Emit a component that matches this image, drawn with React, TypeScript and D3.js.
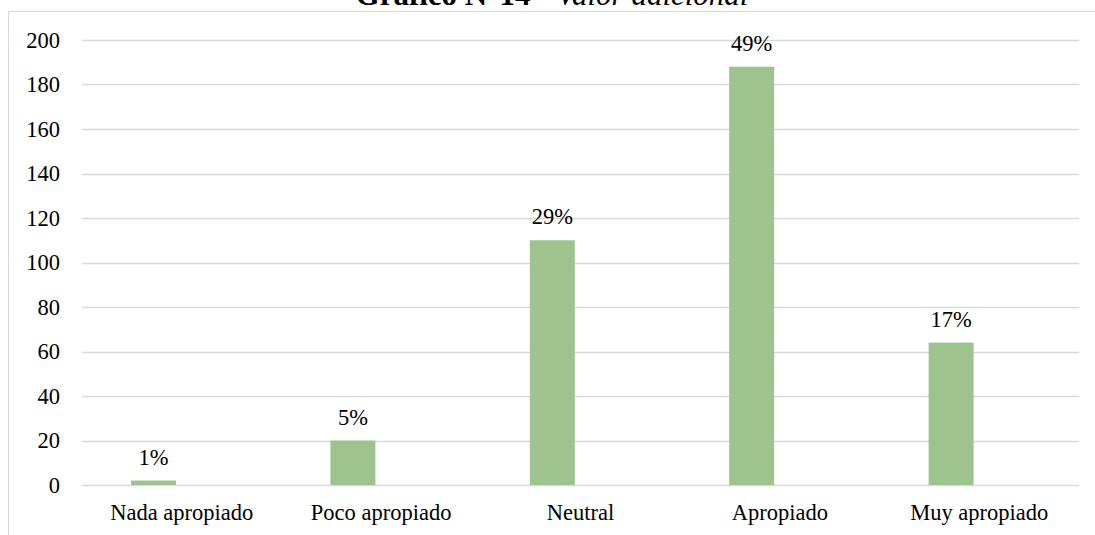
import React from "react";
import * as d3 from "d3";

const categories = ["Nada apropiado", "Poco apropiado", "Neutral", "Apropiado", "Muy apropiado"];
const counts = [2, 20, 110, 188, 64];
const percentLabels = ["1%", "5%", "29%", "49%", "17%"];
const yTicks = [0, 20, 40, 60, 80, 100, 120, 140, 160, 180, 200];
// the source sheet had a second, empty series beside each bar
const seriesKeys = ["Frecuencia", "vacía"];

const W = 1095;
const H = 535;
const margin = { top: 40, right: 16, bottom: 50, left: 82 };
const font = "'Liberation Serif', 'Times New Roman', serif";
const fs = 22.5;

const App: React.FC = () => {
  const x = d3
    .scaleBand<string>()
    .domain(categories)
    .range([margin.left, W - margin.right])
    .padding(0);

  const inner = d3
    .scaleBand<string>()
    .domain(seriesKeys)
    .range([0, x.bandwidth()])
    .paddingInner(0)
    .paddingOuter(1.216)
    .align(0.448);

  const y = d3
    .scaleLinear()
    .domain([0, 200])
    .range([H - margin.bottom, margin.top]);

  return (
    <div style={{ position: "absolute", left: 0, top: 0 }}>
      <svg width={W} height={H} style={{ display: "block", background: "#fff" }}>
        <rect x={8.5} y={11.5} width={W + 10} height={H + 10} fill="none" stroke="#d9d9d9" strokeWidth={1} />

        <text x={552} y={5} textAnchor="middle" fontFamily={font} fontSize={31} fill="#000">
          <tspan fontWeight="bold">Gráfico N°14 - </tspan>
          <tspan fontStyle="italic">Valor adicional</tspan>
        </text>

        {yTicks.map((t) => (
          <g key={t}>
            <line
              x1={margin.left}
              x2={W - margin.right}
              y1={Math.round(y(t)) + 0.5}
              y2={Math.round(y(t)) + 0.5}
              stroke="#d9d9d9"
              strokeWidth={1.3}
            />
            <text
              x={60}
              y={y(t)}
              dy="0.35em"
              textAnchor="end"
              fontFamily={font}
              fontSize={fs}
              fill="#000"
            >
              {t}
            </text>
          </g>
        ))}

        {categories.map((c, i) => {
          const bx = (x(c) ?? 0) + (inner(seriesKeys[0]) ?? 0);
          const bw = inner.bandwidth();
          return (
            <g key={c}>
              <rect x={bx} y={y(counts[i])} width={bw} height={y(0) - y(counts[i])} fill="#9fc38f" />
              <text
                x={bx + bw / 2}
                y={y(counts[i]) - 16}
                textAnchor="middle"
                fontFamily={font}
                fontSize={fs}
                fill="#000"
              >
                {percentLabels[i]}
              </text>
              <text
                x={(x(c) ?? 0) + x.bandwidth() / 2}
                y={y(0) + 35}
                textAnchor="middle"
                fontFamily={font}
                fontSize={fs}
                fill="#000"
              >
                {c}
              </text>
            </g>
          );
        })}
      </svg>
    </div>
  );
};

export default App;
